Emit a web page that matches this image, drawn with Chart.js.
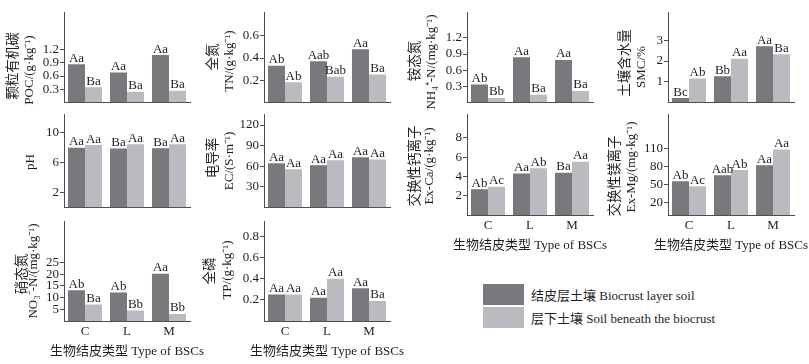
<!DOCTYPE html>
<html>
<head>
<meta charset="utf-8">
<script src="https://cdn.jsdelivr.net/npm/chart.js@4.4.1/dist/chart.umd.min.js"></script>
<style>
    body { margin: 0; width: 809px; height: 364px; background: #fff; position: relative; overflow: hidden;
           font-family: "Liberation Serif", "Noto Sans CJK SC", serif; }
    canvas { position: absolute; }
    .legend { position: absolute; left: 483px; top: 284px; }
    .legend .item { display: flex; align-items: center; height: 21px; margin-bottom: 2px; font-size: 13px; color: #1e1e1e; }
    .legend .box { width: 41px; height: 21px; margin-right: 7px; }
</style>
</head>
<body>
<div class="legend" id="legend"></div>
<script>
const categories = ['C', 'L', 'M'];
const seriesNames = ['结皮层土壤 Biocrust layer soil', '层下土壤 Soil beneath the biocrust'];
const xTitle = '生物结皮类型 Type of BSCs';

// 颗粒有机碳 POC
const pocLayer = [0.87, 0.68, 1.08];
const pocBelow = [0.34, 0.24, 0.26];
const pocSig = [['Aa', 'Aa', 'Aa'], ['Ba', 'Ba', 'Ba']];
const pocTicks = [0.3, 0.6, 0.9, 1.2];

// 全氮 TN
const tnLayer = [0.33, 0.37, 0.48];
const tnBelow = [0.18, 0.23, 0.25];
const tnSig = [['Ab', 'Aab', 'Aa'], ['Ab', 'Bab', 'Ba']];
const tnTicks = [0.2, 0.4, 0.6];

// 铵态氮 NH4+-N
const nh4Layer = [0.33, 0.84, 0.79];
const nh4Below = [0.08, 0.14, 0.21];
const nh4Sig = [['Ab', 'Aa', 'Aa'], ['Bb', 'Ba', 'Ba']];
const nh4Ticks = [0.3, 0.6, 0.9, 1.2];

// 土壤含水量 SMC
const smcLayer = [0.2, 1.26, 2.72];
const smcBelow = [1.15, 2.11, 2.33];
const smcSig = [['Bc', 'Bb', 'Aa'], ['Ab', 'Aa', 'Ba']];
const smcTicks = [1, 2, 3];

// pH
const phLayer = [7.99, 7.87, 7.9];
const phBelow = [8.34, 8.46, 8.46];
const phSig = [['Aa', 'Ba', 'Ba'], ['Aa', 'Aa', 'Aa']];
const phTicks = [2, 6, 10];

// 电导率 EC
const ecLayer = [64.3, 61.3, 72.9];
const ecBelow = [55.3, 68.5, 69.8];
const ecSig = [['Aa', 'Aa', 'Aa'], ['Aa', 'Aa', 'Aa']];
const ecTicks = [30, 60, 90, 120];

// 交换性钙离子 Ex-Ca
const caLayer = [2.66, 4.32, 4.38];
const caBelow = [2.93, 4.84, 5.53];
const caSig = [['Ab', 'Aa', 'Ba'], ['Ac', 'Ab', 'Aa']];
const caTicks = [2, 4, 6, 8];

// 交换性镁离子 Ex-Mg
const mgLayer = [55.9, 65.9, 82.3];
const mgBelow = [47.5, 74.4, 108.5];
const mgSig = [['Ab', 'Aab', 'Aa'], ['Ac', 'Ab', 'Aa']];
const mgTicks = [20, 50, 80, 110];

// 硝态氮 NO3--N
const no3Layer = [13.1, 12.2, 20.2];
const no3Below = [7.0, 4.5, 3.0];
const no3Sig = [['Ab', 'Ab', 'Aa'], ['Ba', 'Bb', 'Bb']];
const no3Ticks = [5, 10, 15, 20, 25];

// 全磷 TP
const tpLayer = [0.25, 0.22, 0.31];
const tpBelow = [0.25, 0.40, 0.19];
const tpSig = [['Aa', 'Aa', 'Aa'], ['Aa', 'Aa', 'Ba']];
const tpTicks = [0.2, 0.4, 0.6, 0.8];

const FONT = '"Liberation Serif", "Noto Sans CJK SC", serif';
const darkColor = '#79787d';
const lightColor = '#bdb9c1';
const axisColor = '#4d4d4d';
const textColor = '#1e1e1e';

// panel grid (page pixels)
const cols = [{left: 64, right: 190}, {left: 264, right: 390}, {left: 467, right: 593}, {left: 668, right: 794}];
const rows = [{top: 8, bottom: 110}, {top: 110, bottom: 215}, {top: 217, bottom: 321}];
const extraRight = 24;

const panels = [
    {col: 0, row: 0, layer: pocLayer, below: pocBelow, sig: pocSig, ticks: pocTicks, max: 2.05,
     titles: [['颗粒有机碳', 13, 66], ['POC/(g·kg⁻¹)', 30, 70]]},
    {col: 1, row: 0, layer: tnLayer, below: tnBelow, sig: tnSig, ticks: tnTicks, max: 0.81,
     titles: [['全氮', 213, 57], ['TN/(g·kg⁻¹)', 230, 61]]},
    {col: 2, row: 0, layer: nh4Layer, below: nh4Below, sig: nh4Sig, ticks: nh4Ticks, max: 1.67,
     titles: [['铵态氮', 415, 61], ['NH₄⁺-N/(mg·kg⁻¹)', 432, 62]]},
    {col: 3, row: 0, layer: smcLayer, below: smcBelow, sig: smcSig, ticks: smcTicks, max: 4.34,
     titles: [['土壤含水量', 625, 63], ['SMC/%', 642, 67]]},
    {col: 0, row: 1, layer: phLayer, below: phBelow, sig: phSig, ticks: phTicks, max: 12.4,
     titles: [['pH', 31, 162]]},
    {col: 1, row: 1, layer: ecLayer, below: ecBelow, sig: ecSig, ticks: ecTicks, max: 135,
     titles: [['电导率', 213, 158], ['EC/(S·m⁻¹)', 230, 161]]},
    {col: 2, row: 1, layer: caLayer, below: caBelow, sig: caSig, ticks: caTicks, max: 10.4, xAxis: true,
     titles: [['交换性钙离子', 415, 166], ['Ex-Ca/(g·kg⁻¹)', 430, 166]]},
    {col: 3, row: 1, layer: mgLayer, below: mgBelow, sig: mgSig, ticks: mgTicks, max: 166, xAxis: true,
     titles: [['交换性镁离子', 615, 176], ['Ex-Mg/(mg·kg⁻¹)', 632, 167]]},
    {col: 0, row: 2, layer: no3Layer, below: no3Below, sig: no3Sig, ticks: no3Ticks, max: 42.3, xAxis: true,
     titles: [['硝态氮', 22, 274], ['NO₃⁻-N/(mg·kg⁻¹)', 34, 271]]},
    {col: 1, row: 2, layer: tpLayer, below: tpBelow, sig: tpSig, ticks: tpTicks, max: 0.94, xAxis: true,
     titles: [['全磷', 210, 271], ['TP/(g·kg⁻¹)', 228, 270]]}
];

// letters above each bar
const sigLabels = {
    id: 'sigLabels',
    afterDatasetsDraw(chart) {
        const ctx = chart.ctx;
        ctx.save();
        ctx.font = '13px ' + FONT;
        ctx.fillStyle = textColor;
        ctx.textAlign = 'center';
        ctx.textBaseline = 'alphabetic';
        chart.data.datasets.forEach((ds, di) => {
            chart.getDatasetMeta(di).data.forEach((bar, i) => {
                ctx.fillText(ds.sig[i], bar.x, bar.y - 2.5);
            });
        });
        ctx.restore();
    }
};

// rotated y titles (Chinese + English) and the x title, which must not be squeezed
const axisTitles = {
    id: 'axisTitles',
    afterDraw(chart, args, opts) {
        const ctx = chart.ctx;
        ctx.save();
        ctx.fillStyle = textColor;
        ctx.textAlign = 'center';
        ctx.textBaseline = 'middle';
        opts.lines.forEach(([text, x, y]) => {
            ctx.save();
            ctx.font = (/[\u4e00-\u9fff]/.test(text) ? '13.5px ' : '13px ') + FONT;
            ctx.translate(x - opts.left, y - opts.top);
            ctx.rotate(-Math.PI / 2);
            ctx.fillText(text, 0, 0);
            ctx.restore();
        });
        if (opts.xTitle) {
            const a = chart.chartArea;
            ctx.font = '13px ' + FONT;
            ctx.fillText(opts.xTitle, (a.left + a.right) / 2, a.bottom + 31);
        }
        ctx.restore();
    }
};

panels.forEach(p => {
    const col = cols[p.col], row = rows[p.row];
    const bottomH = p.xAxis ? 42 : 1;
    const left = col.left - 64;
    const top = row.top - 4;
    const w = col.right - col.left + 64 + extraRight;
    const h = row.bottom - row.top + 4 + bottomH;

    const cv = document.createElement('canvas');
    cv.width = w;
    cv.height = h;
    cv.style.left = left + 'px';
    cv.style.top = top + 'px';
    cv.style.width = w + 'px';
    cv.style.height = h + 'px';
    document.body.appendChild(cv);

    new Chart(cv, {
        type: 'bar',
        data: {
            labels: categories,
            datasets: [
                {label: seriesNames[0], data: p.layer, backgroundColor: darkColor, sig: p.sig[0]},
                {label: seriesNames[1], data: p.below, backgroundColor: lightColor, sig: p.sig[1]}
            ]
        },
        options: {
            responsive: false,
            animation: false,
            devicePixelRatio: 1,
            layout: {padding: {left: 0, top: 4, right: extraRight, bottom: 0}},
            datasets: {bar: {barPercentage: 1, categoryPercentage: 0.81}},
            plugins: {
                legend: {display: false},
                tooltip: {enabled: false},
                axisTitles: {lines: p.titles, left: left, top: top, xTitle: p.xAxis ? xTitle : null}
            },
            scales: {
                x: {
                    grid: {display: false, drawTicks: false},
                    border: {display: true, color: axisColor, width: 1},
                    ticks: {display: !!p.xAxis, padding: 3, color: textColor, font: {family: FONT, size: 13}},
                    afterFit(s) { s.height = bottomH; }
                },
                y: {
                    min: 0,
                    max: p.max,
                    grid: {display: true, drawOnChartArea: false, drawTicks: true, tickLength: 4, color: axisColor},
                    border: {display: true, color: axisColor, width: 1},
                    ticks: {padding: 1, color: textColor, font: {family: FONT, size: 13}, callback: v => String(v)},
                    afterBuildTicks(s) { s.ticks = p.ticks.map(v => ({value: v})); },
                    afterFit(s) { s.width = 64; }
                }
            }
        },
        plugins: [sigLabels, axisTitles]
    });
});

// legend
const legend = document.getElementById('legend');
[darkColor, lightColor].forEach((c, i) => {
    const item = document.createElement('div');
    item.className = 'item';
    const box = document.createElement('div');
    box.className = 'box';
    box.style.background = c;
    const txt = document.createElement('span');
    txt.textContent = seriesNames[i];
    item.appendChild(box);
    item.appendChild(txt);
    legend.appendChild(item);
});
</script>
</body>
</html>
